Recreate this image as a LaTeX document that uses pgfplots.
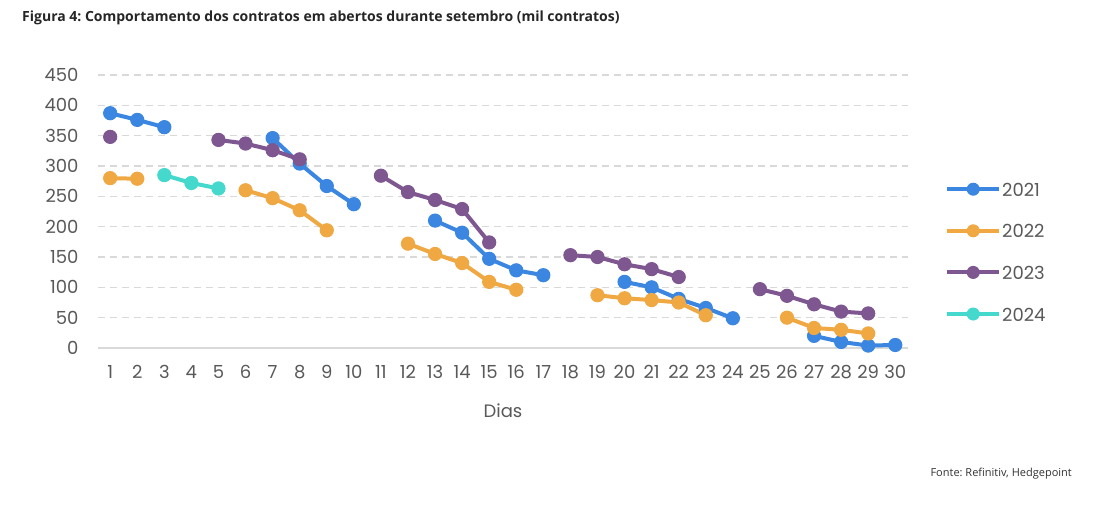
\documentclass[border=0pt]{standalone}
\usepackage{pgfplots}
\pgfplotsset{compat=1.18}
\usepackage{fontspec}
\setmainfont{Poppins}
\newfontfamily\osans{Open Sans}
\frenchspacing
\definecolor{cA}{HTML}{3A86E0}
\definecolor{cB}{HTML}{F0A843}
\definecolor{cC}{HTML}{7E5690}
\definecolor{cD}{HTML}{45D9CE}
\definecolor{txt}{HTML}{595959}
\definecolor{grd}{HTML}{D9D9D9}
\begin{document}
\begin{tikzpicture}
\fill[white] (0pt,0pt) rectangle (1107pt,508pt);
\node[anchor=west, inner sep=0pt, font=\osans\bfseries\fontsize{14}{16}\selectfont, text=black!85] at (22pt,490pt) {Figura 4: Comportamento dos contratos em abertos durante setembro (mil contratos)};
\node[anchor=east, inner sep=0pt, font=\osans\fontsize{11}{13}\selectfont, text=black!80] at (1072pt,34pt) {Fonte: Refinitiv, Hedgepoint};
\begin{axis}[
  at={(98pt,160pt)}, anchor=south west,
  width=810pt, height=273pt, scale only axis,
  xmin=0.55, xmax=30.47, ymin=0, ymax=450,
  axis line style={draw=none},
  major tick length=0pt,
  xtick={1,...,30},
  ytick={50,100,...,450},
  extra y ticks={0},
  extra y tick style={grid style={solid, draw=grd, line width=1.2pt}},
  ymajorgrids,
  grid style={draw=grd, line width=1.2pt, dash pattern=on 7pt off 5pt},
  /pgf/number format/assume math mode=true,
  tick label style={font=\fontsize{18}{20}\selectfont, text=txt},
  yticklabel style={xshift=-16pt},
  xticklabel style={yshift=-14pt},
  xlabel={Dias},
  xlabel style={font=\fontsize{18}{20}\selectfont, text=txt, at={(axis description cs:0.5,0)}, anchor=center, yshift=-63pt},
  unbounded coords=jump,
  every axis plot/.append style={line width=4pt, mark=*, mark size=6.6pt, mark options={solid, line width=1pt}},
  legend style={at={(1.0457,0.6117)}, anchor=north west, draw=none, fill=none, inner sep=0pt,
    row sep=25.6pt, font=\fontsize{18}{20}\selectfont, text=txt,
    nodes={inner sep=1pt, text height=14pt, text depth=0pt}},
  legend cell align=left,
  legend image code/.code={\draw[mark repeat=2,mark phase=2,#1, mark size=6pt] plot coordinates {(0pt,0pt) (26pt,0pt) (52pt,0pt)};},
]
\addplot[color=cA] coordinates {(1,387) (2,376) (3,364) (4,nan) (7,346) (8,304) (9,267) (10,237) (11,nan) (13,210) (14,190) (15,147) (16,128) (17,120) (18,nan) (20,109) (21,100) (22,81) (23,66) (24,49) (25,nan) (27,20) (28,10) (29,4) (30,5)};
\addlegendentry{2021}
\addplot[color=cB] coordinates {(1,280) (2,279) (3,nan) (6,260) (7,247) (8,227) (9,194) (10,nan) (12,172) (13,155) (14,140) (15,109) (16,96) (17,nan) (19,87) (20,82) (21,79) (22,75) (23,54) (24,nan) (26,50) (27,33) (28,30) (29,24)};
\addlegendentry{2022}
\addplot[color=cC] coordinates {(1,348) (2,nan) (5,343) (6,337) (7,326) (8,311) (9,nan) (11,284) (12,257) (13,244) (14,229) (15,174) (16,nan) (18,153) (19,150) (20,138) (21,130) (22,117) (23,nan) (25,97) (26,86) (27,72) (28,60) (29,57)};
\addlegendentry{2023}
\addplot[color=cD] coordinates {(3,285) (4,272) (5,263)};
\addlegendentry{2024}
\end{axis}
\end{tikzpicture}
\end{document}
